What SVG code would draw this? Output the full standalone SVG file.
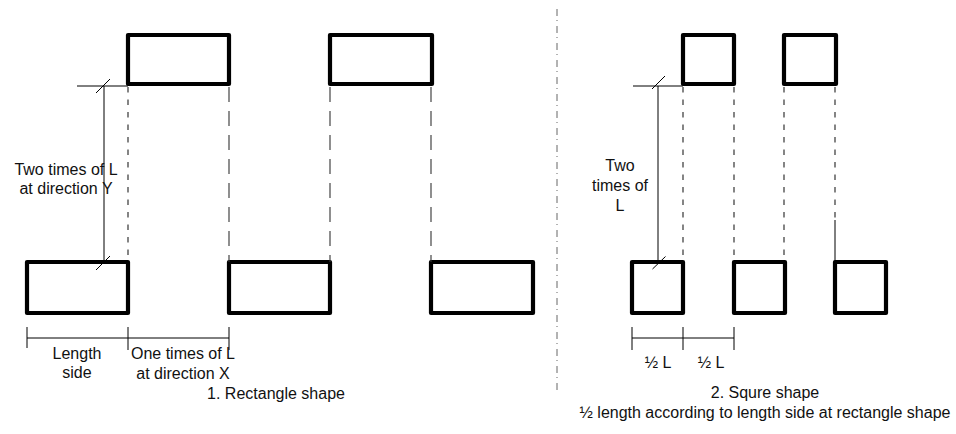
<svg xmlns="http://www.w3.org/2000/svg" width="956" height="434" viewBox="0 0 956 434">
<style>
.shape{fill:none;stroke:#000;stroke-width:4.2;stroke-linejoin:round}
.thin{fill:none;stroke:#000;stroke-width:1}
.dshort{fill:none;stroke:#222;stroke-width:1.1;stroke-dasharray:5.5 7}
.dlong{fill:none;stroke:#333;stroke-width:1.1;stroke-dasharray:15 9}
.axis{fill:none;stroke:#666;stroke-width:1;stroke-dasharray:7 4 1 5}
text{font-family:"Liberation Sans",Arial,sans-serif;font-size:16px;fill:#111;text-anchor:middle}
</style>
<rect width="956" height="434" fill="#fff"/>
<g id="divider"><line class="axis" x1="557" y1="9" x2="557" y2="390"/></g>
<g id="rect-top-1"><rect class="shape" x="128" y="35" width="101" height="49"/></g>
<g id="rect-top-2"><rect class="shape" x="330" y="35" width="102" height="49"/></g>
<g id="rect-bottom-1"><rect class="shape" x="27" y="262" width="101" height="51"/></g>
<g id="rect-bottom-2"><rect class="shape" x="229" y="262" width="101" height="51"/></g>
<g id="rect-bottom-3"><rect class="shape" x="431" y="262" width="102" height="51"/></g>
<g id="sq-top-1"><rect class="shape" x="683" y="35" width="51" height="49"/></g>
<g id="sq-top-2"><rect class="shape" x="784" y="35" width="52" height="49"/></g>
<g id="sq-bottom-1"><rect class="shape" x="632" y="262" width="51" height="51"/></g>
<g id="sq-bottom-2"><rect class="shape" x="734" y="262" width="51" height="51"/></g>
<g id="sq-bottom-3"><rect class="shape" x="835" y="262" width="51" height="51"/></g>
<g id="connectors">
<line class="dshort" x1="128" y1="87" x2="128" y2="262"/>
<line class="dlong" x1="229" y1="87" x2="229" y2="262"/>
<line class="dlong" x1="330" y1="87" x2="330" y2="262"/>
<line class="dlong" x1="431" y1="87" x2="431" y2="262"/>
<line class="dshort" x1="683" y1="87" x2="683" y2="262"/>
<line class="dshort" x1="734" y1="87" x2="734" y2="262"/>
<line class="dshort" x1="784" y1="87" x2="784" y2="262"/>
<line class="dshort" x1="835" y1="87" x2="835" y2="220"/>
<line class="thin" x1="835" y1="220" x2="835" y2="262"/>
<line class="thin" x1="77" y1="86" x2="128" y2="86"/>
<line class="thin" x1="104" y1="86" x2="104" y2="262"/>
<line class="thin" x1="96" y1="93" x2="110" y2="79"/>
<line class="thin" x1="96" y1="270" x2="110" y2="256"/>
<line class="thin" x1="27" y1="338" x2="229" y2="338"/>
<line class="thin" x1="27" y1="327" x2="27" y2="348"/>
<line class="thin" x1="128" y1="327" x2="128" y2="350"/>
<line class="thin" x1="229" y1="327" x2="229" y2="350"/>
<line class="thin" x1="633" y1="86" x2="683" y2="86"/>
<line class="thin" x1="658" y1="86" x2="658" y2="262"/>
<line class="thin" x1="652" y1="89" x2="665" y2="76"/>
<line class="thin" x1="652.5" y1="269" x2="665.5" y2="256.5"/>
<line class="thin" x1="632" y1="338" x2="734" y2="338"/>
<line class="thin" x1="632" y1="327" x2="632" y2="350"/>
<line class="thin" x1="683" y1="327" x2="683" y2="350"/>
<line class="thin" x1="734" y1="327" x2="734" y2="350"/>
</g>
<g id="labels">
<text x="66" y="175">Two times of L</text>
<text x="66" y="194">at direction Y</text>
<text x="77" y="359">Length</text>
<text x="77" y="378">side</text>
<text x="183" y="359">One times of L</text>
<text x="183" y="379">at direction X</text>
<text x="276" y="399">1. Rectangle shape</text>
<text x="620" y="171">Two</text>
<text x="620" y="191">times of</text>
<text x="620" y="211">L</text>
<text x="658" y="368">½ L</text>
<text x="711" y="368">½ L</text>
<text x="765" y="398">2. Squre shape</text>
<text x="765" y="418">½ length according to length side at rectangle shape</text>
</g>
</svg>
